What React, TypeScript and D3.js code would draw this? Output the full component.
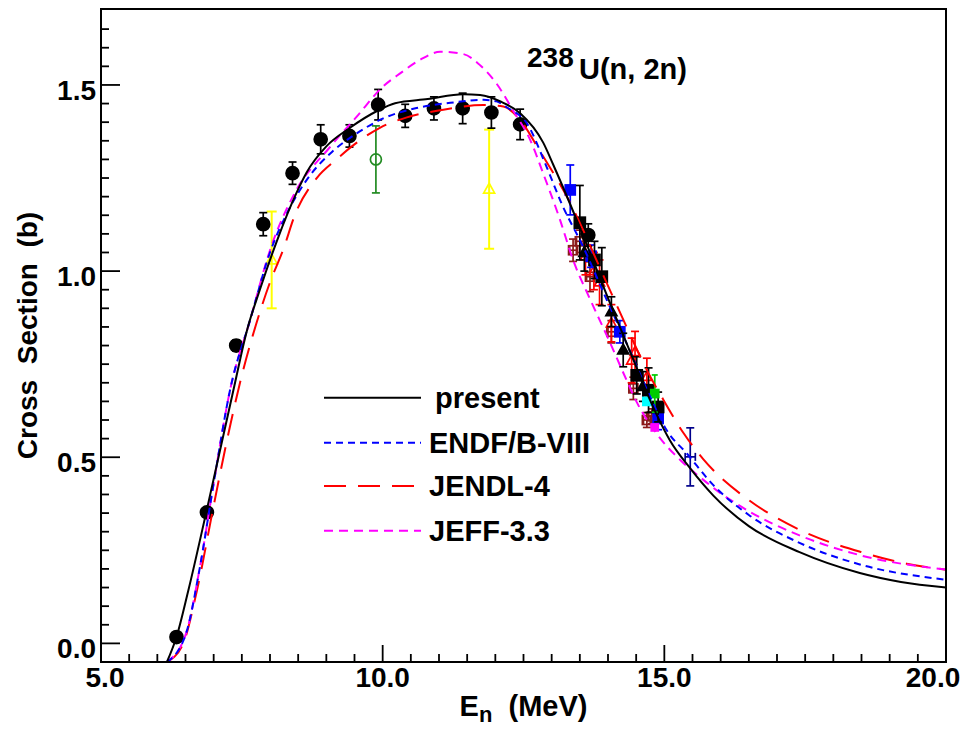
import React from 'react';
import * as d3 from 'd3';

// ---- Data ----
const xTickMajor = [5, 10, 15, 20];
const yTickMajor = [0, 0.5, 1.0, 1.5];

const presentCurve: [number, number][] = [
  [6.17, -0.05], [6.34, 0.017], [6.55, 0.142], [6.88, 0.36], [7.35, 0.68], [7.59, 0.84],
  [7.82, 0.95], [8.12, 1.08], [8.47, 1.21], [8.65, 1.265], [9.0, 1.335], [9.42, 1.385],
  [9.9, 1.43], [10.22, 1.451], [10.8, 1.462], [11.43, 1.475], [11.73, 1.473], [12.1, 1.455],
  [12.44, 1.424], [12.85, 1.345], [13.03, 1.285], [13.56, 1.095], [14.06, 0.905], [14.51, 0.74],
  [14.83, 0.625], [15.1, 0.545], [15.46, 0.47], [15.87, 0.397], [16.5, 0.315], [17.4, 0.245],
  [18.47, 0.189], [19.2, 0.165], [20.0, 0.15],
];

const endfCurve: [number, number][] = [
  [6.17, -0.05], [6.51, 0.027], [6.75, 0.2], [7.0, 0.43], [7.29, 0.68], [7.65, 0.87],
  [8.0, 1.05], [8.3, 1.155], [8.7, 1.255], [9.1, 1.32], [9.54, 1.37], [10.01, 1.41],
  [10.6, 1.438], [11.2, 1.452], [11.79, 1.46], [12.02, 1.456], [12.2, 1.44], [12.56, 1.397],
  [12.91, 1.28], [13.18, 1.18], [13.56, 1.065], [13.98, 0.922], [14.33, 0.806], [14.75, 0.662],
  [15.04, 0.573], [15.4, 0.51], [15.87, 0.425], [16.5, 0.345], [17.4, 0.27], [18.47, 0.212],
  [20.0, 0.171],
];

const jendlCurve: [number, number][] = [
  [6.17, -0.05], [6.46, 0.0], [6.7, 0.14], [7.0, 0.37], [7.3, 0.59], [7.5, 0.72], [7.7, 0.83],
  [8.0, 0.97], [8.24, 1.06], [8.44, 1.15], [8.83, 1.25], [9.18, 1.3], [9.54, 1.345],
  [9.95, 1.385], [10.43, 1.413], [11.02, 1.432], [11.79, 1.446], [12.14, 1.442], [12.44, 1.406],
  [12.8, 1.32], [13.27, 1.2], [13.98, 0.967], [14.33, 0.85], [14.69, 0.734], [14.98, 0.655],
  [15.34, 0.565], [15.69, 0.495], [15.87, 0.465], [16.5, 0.385], [17.4, 0.305], [18.5, 0.245],
  [19.3, 0.214], [20.0, 0.198],
];

const jeffCurve: [number, number][] = [
  [6.17, -0.05], [6.51, 0.027], [6.75, 0.2], [7.0, 0.43], [7.29, 0.68], [7.65, 0.87],
  [8.0, 1.056], [8.44, 1.21], [9.07, 1.334], [9.54, 1.415], [10.0, 1.495], [10.31, 1.531],
  [10.66, 1.567], [11.02, 1.589], [11.43, 1.583], [11.73, 1.553], [12.02, 1.504], [12.32, 1.43],
  [12.62, 1.352], [12.85, 1.262], [13.15, 1.137], [13.38, 1.03], [13.68, 0.925], [14.0, 0.82],
  [14.33, 0.707], [14.51, 0.648], [14.86, 0.564], [15.3, 0.49], [15.63, 0.447], [15.93, 0.411],
  [16.5, 0.355], [17.4, 0.29], [18.47, 0.237], [20.0, 0.198],
];

// [E, sigma, error]
const blackCircles: [number, number, number][] = [
  [6.34, 0.017, 0.005], [6.88, 0.352, 0.01], [7.40, 0.80, 0.015], [7.88, 1.126, 0.031],
  [8.40, 1.263, 0.03], [8.90, 1.354, 0.039], [9.41, 1.363, 0.03], [9.92, 1.447, 0.041],
  [10.40, 1.417, 0.031], [10.91, 1.437, 0.031], [11.42, 1.437, 0.041], [11.93, 1.426, 0.042],
  [12.44, 1.394, 0.041], [13.65, 1.097, 0.03],
];
const greenCircles: [number, number, number][] = [[9.88, 1.30, 0.09]];
const yellowTriangles: [number, number, number][] = [[8.03, 1.03, 0.13], [11.89, 1.22, 0.16]];
const blackSquares: [number, number, number][] = [
  [13.50, 1.13, 0.10], [13.89, 0.985, 0.078], [13.76, 1.03, 0.05], [14.51, 0.72, 0.05],
  [14.72, 0.68, 0.06], [14.89, 0.635, 0.04],
];
const blackTriangles: [number, number, number][] = [
  [13.58, 1.05, 0.05], [14.06, 0.891, 0.04], [14.27, 0.788, 0.045], [14.62, 0.69, 0.04],
];
const redTriangles: [number, number, number][] = [
  [13.60, 1.04, 0.05], [13.75, 1.0, 0.05], [13.85, 0.97, 0.06], [14.06, 0.86, 0.05],
  [14.42, 0.76, 0.06], [14.48, 0.783, 0.055], [14.69, 0.716, 0.05],
];
const darkRedSquares: [number, number, number][] = [
  [13.38, 1.056, 0.03], [13.50, 1.08, 0.03], [13.68, 0.985, 0.04], [14.06, 0.837, 0.03],
  [14.45, 0.685, 0.03], [14.69, 0.60, 0.02], [14.78, 0.61, 0.02],
];
const blueSquares: [number, number, number][] = [
  [13.33, 1.218, 0.067], [13.70, 1.04, 0.03], [14.21, 0.837, 0.03], [14.89, 0.604, 0.03],
];
const navyPoints: [number, number, number][] = [[15.46, 0.501, 0.078]];
const greenSquares: [number, number, number][] = [[14.83, 0.671, 0.05]];
const cyanPoints: [number, number, number][] = [[14.69, 0.65, 0.03]];
const magentaPoints: [number, number, number][] = [[14.83, 0.58, 0.02]];

const legendItems = [
  { label: 'present', color: '#000000', dash: '', key: 'present' },
  { label: 'ENDF/B-VIII', color: '#0000ff', dash: '7,5', key: 'endf' },
  { label: 'JENDL-4', color: '#ff0000', dash: '22,12', key: 'jendl' },
  { label: 'JEFF-3.3', color: '#ff00ff', dash: '9,6', key: 'jeff' },
];

const FONT = '"Liberation Sans", Arial, Helvetica, sans-serif';

export default function App() {
  const L = 101, R = 946, T = 9, B = 662;
  const x = d3.scaleLinear().domain([5, 20]).range([L, R]);
  const y = d3.scaleLinear().domain([-0.05, 1.704]).range([B, T]);
  const line = d3.line<[number, number]>().x(d => x(d[0])).y(d => y(d[1])).curve(d3.curveMonotoneX);

  const xMinor = d3.range(5, 20.001, 0.5);
  const yMinor = d3.range(-0.05, 1.70, 0.05);

  const errBar = (pts: [number, number, number][], color: string, cap = 4, xerr = 0, sw = 1.7) =>
    pts.map((p, i) => (
      <g key={i} stroke={color} strokeWidth={sw} fill="none">
        <line x1={x(p[0])} x2={x(p[0])} y1={y(p[1] - p[2])} y2={y(p[1] + p[2])} />
        <line x1={x(p[0]) - cap} x2={x(p[0]) + cap} y1={y(p[1] - p[2])} y2={y(p[1] - p[2])} />
        <line x1={x(p[0]) - cap} x2={x(p[0]) + cap} y1={y(p[1] + p[2])} y2={y(p[1] + p[2])} />
        {xerr > 0 && (
          <>
            <line x1={x(p[0] - xerr)} x2={x(p[0] + xerr)} y1={y(p[1])} y2={y(p[1])} />
            <line x1={x(p[0] - xerr)} x2={x(p[0] - xerr)} y1={y(p[1]) - cap} y2={y(p[1]) + cap} />
            <line x1={x(p[0] + xerr)} x2={x(p[0] + xerr)} y1={y(p[1]) - cap} y2={y(p[1]) + cap} />
          </>
        )}
      </g>
    ));

  const circles = (pts: [number, number, number][], color: string, r: number, filled: boolean) =>
    pts.map((p, i) => (
      <circle key={i} cx={x(p[0])} cy={y(p[1])} r={r} fill={filled ? color : 'none'} stroke={color} strokeWidth={1.7} />
    ));
  const squares = (pts: [number, number, number][], color: string, s: number, filled: boolean) =>
    pts.map((p, i) => (
      <rect key={i} x={x(p[0]) - s / 2} y={y(p[1]) - s / 2} width={s} height={s} fill={filled ? color : 'none'} stroke={color} strokeWidth={1.7} />
    ));
  const triangles = (pts: [number, number, number][], color: string, s: number, filled: boolean) =>
    pts.map((p, i) => {
      const cx = x(p[0]), cy = y(p[1]);
      const h = s * 0.9;
      return (
        <path key={i} d={`M${cx},${cy - h * 0.6}L${cx + s / 2},${cy + h * 0.4}L${cx - s / 2},${cy + h * 0.4}Z`}
          fill={filled ? color : 'none'} stroke={color} strokeWidth={1.7} />
      );
    });

  const legendY = [397.7, 442.7, 486, 530.7];

  return (
    <svg width={967} height={732} style={{ position: 'absolute', left: 0, top: 0, background: '#fff' }}
      fontFamily={FONT}>
      <rect x={0} y={0} width={967} height={732} fill="#fff" />
      <defs>
        <clipPath id="frame">
          <rect x={L} y={T} width={R - L} height={B - T} />
        </clipPath>
      </defs>

      {/* data points */}
      <g clipPath="url(#frame)">
        {errBar(greenCircles, '#228b22')}
        {circles(greenCircles, '#228b22', 5.5, false)}
        {errBar(yellowTriangles, '#ffff00', 5, 0, 2)}
        {triangles(yellowTriangles, '#ffff00', 11, false)}
        {errBar(darkRedSquares, '#8b1a1a', 4, 0.06)}
        {squares(darkRedSquares, '#8b1a1a', 9, false)}
        {errBar(redTriangles, '#ff0000', 4)}
        {triangles(redTriangles, '#ff0000', 10, false)}
        {errBar(blueSquares, '#0000ff', 4)}
        {squares(blueSquares, '#0000ff', 10, true)}
        {errBar(blackSquares, '#000000', 4)}
        {squares(blackSquares, '#000000', 11, true)}
        {errBar(blackTriangles, '#000000', 4)}
        {triangles(blackTriangles, '#000000', 11, true)}
        {squares(greenSquares, '#00cc00', 8, true)}
        {errBar(greenSquares, '#00cc00', 3)}
        {squares(cyanPoints, '#00ffff', 8, true)}
        {squares(magentaPoints, '#ff00ff', 7, true)}
        {errBar(navyPoints, '#00008b', 4, 0.09)}
        {errBar(blackCircles, '#000000', 4)}
        {circles(blackCircles, '#000000', 6.5, true)}
      </g>

      {/* curves */}
      <g clipPath="url(#frame)" fill="none" strokeWidth={2}>
        <path d={line(jendlCurve) || ''} stroke="#ff0000" strokeDasharray="22,12" />
        <path d={line(jeffCurve) || ''} stroke="#ff00ff" strokeDasharray="9,6" />
        <path d={line(endfCurve) || ''} stroke="#0000ff" strokeDasharray="7,5" />
        <path d={line(presentCurve) || ''} stroke="#000000" />
      </g>

      {/* frame */}
      <rect x={L} y={T} width={R - L} height={B - T} fill="none" stroke="#000" strokeWidth={2} />

      {/* ticks */}
      <g stroke="#000" strokeWidth={1.8}>
        {xMinor.map((v, i) => {
          const major = xTickMajor.some(m => Math.abs(m - v) < 1e-6);
          return <line key={i} x1={x(v)} x2={x(v)} y1={B} y2={B - (major ? 17 : 8)} />;
        })}
        {yMinor.map((v, i) => {
          const major = yTickMajor.some(m => Math.abs(m - v) < 1e-6);
          return <line key={i} x1={L} x2={L + (major ? 19 : 8)} y1={y(v)} y2={y(v)} />;
        })}
      </g>

      {/* tick labels */}
      <g fontSize={28} fontWeight="bold" fill="#000">
        {xTickMajor.map((v, i) => (
          <text key={i} x={Math.min(Math.max(x(v), 105), 933)} y={687} textAnchor="middle">{v.toFixed(1)}</text>
        ))}
        {yTickMajor.map((v, i) => (
          <text key={i} x={96} y={y(v) + 15} textAnchor="end">{v.toFixed(1)}</text>
        ))}
      </g>

      {/* axis titles */}
      <text x={(L + R) / 2} y={716} textAnchor="middle" fontSize={29} fontWeight="bold">
        E<tspan fontSize={22} dy={6}>n</tspan><tspan dy={-6}>{'\u00a0\u00a0(MeV)'}</tspan>
      </text>
      <text transform={`translate(37, ${(T + B) / 2}) rotate(-90)`} textAnchor="middle" fontSize={28} fontWeight="bold">
        {'Cross\u00a0\u00a0Section\u00a0\u00a0(b)'}
      </text>

      {/* title */}
      <text x={527} y={67} fontSize={28} fontWeight="bold">238</text>
      <text x={579} y={79} fontSize={29} fontWeight="bold">U(n, 2n)</text>

      {/* legend */}
      {legendItems.map((it, i) => (
        <g key={it.key}>
          <line x1={324} x2={421} y1={legendY[i]} y2={legendY[i]} stroke={it.color} strokeWidth={2}
            strokeDasharray={it.dash || undefined} />
          <text x={i === 0 ? 435 : 429} y={legendY[i] + 10} fontSize={29} fontWeight="bold">{it.label}</text>
        </g>
      ))}
    </svg>
  );
}
